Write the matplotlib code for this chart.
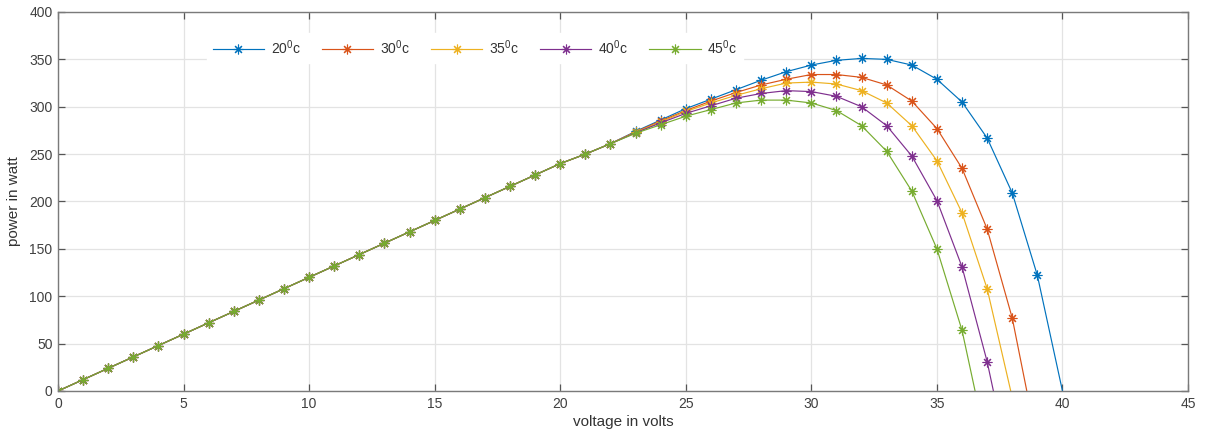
import matplotlib
matplotlib.use("Agg")
import matplotlib.pyplot as plt

plt.rcParams["font.family"] = ["Liberation Sans", "DejaVu Sans"]
plt.rcParams["mathtext.default"] = "regular"

# ─── P-V data ────────────────────────────────────────────────────────────────

# below ~22 V every temperature gives the same power
volt_low = list(range(0, 23))
power_low = [0, 12, 24, 36, 48, 60, 72, 84, 96, 108, 120, 132, 144, 156,
             168, 180, 192, 204, 216, 228, 240, 250, 261]

# knee region, sampled at 1 V steps, last point is the open-circuit voltage
volt_20 = list(range(23, 40)) + [40.0]
power_20 = [274, 286, 298, 308, 318, 328, 337, 344, 349, 351, 350, 344,
            329, 305, 267, 209, 122, 0]

volt_30 = list(range(23, 39)) + [38.58]
power_30 = [273.5, 285, 296, 306, 315, 323, 329, 334, 334, 331, 323, 306,
            277, 235, 171, 77, 0]

volt_35 = list(range(23, 38)) + [37.94]
power_35 = [273, 284, 295, 304, 312, 319, 325, 326, 324, 317, 304, 280,
            243, 188, 108, 0]

volt_40 = list(range(23, 38)) + [37.25]
power_40 = [272.5, 283, 293, 301, 309, 314, 317, 316, 311, 300, 280, 248,
            201, 131, 31, 0]

volt_45 = list(range(23, 37)) + [36.52]
power_45 = [272, 281, 290, 297, 304, 307, 307, 304, 296, 280, 253, 211,
            150, 64, 0]

labels = ["20$^0$c", "30$^0$c", "35$^0$c", "40$^0$c", "45$^0$c"]
colors = ["#0072BD", "#D95319", "#EDB120", "#7E2F8E", "#77AC30"]

series = [(volt_20, power_20), (volt_30, power_30), (volt_35, power_35),
          (volt_40, power_40), (volt_45, power_45)]

# ─── Plot ────────────────────────────────────────────────────────────────────

fig = plt.figure(figsize=(12.14, 4.41), dpi=100)
ax = fig.add_axes([0.0478, 0.1134, 0.9308, 0.8594])

asterisk = (8, 2, 0)
for (v, p), lab, col in zip(series, labels, colors):
    vv = volt_low + v
    pp = power_low + p
    ax.plot(vv, pp, color=col, lw=0.85, marker=asterisk, ms=7, mew=0.8,
            markevery=list(range(len(vv) - 1)), label=lab)

ax.set_xlim(0, 45)
ax.set_ylim(0, 400)
ax.set_xticks(range(0, 46, 5))
ax.set_yticks(range(0, 401, 50))
ax.grid(True, color="#e3e3e3", lw=0.9)
ax.set_axisbelow(True)

for s in ax.spines.values():
    s.set_color("#7a7a7a")
    s.set_linewidth(1.0)
ax.tick_params(direction="in", length=5, width=0.9, color="#555555",
               top=True, right=True, labelsize=10, labelcolor="#404040", pad=4)

ax.set_xlabel("voltage in volts", fontsize=11, color="#333333", labelpad=3)
ax.set_ylabel("power in watt", fontsize=11, color="#333333", labelpad=6)

leg = ax.legend(ncol=5, loc="center", bbox_to_anchor=(0.369, 0.905),
                frameon=True, fontsize=10, handlelength=3.7, handletextpad=0.5,
                columnspacing=1.5, borderpad=0.4)
leg.get_frame().set_facecolor("white")
leg.get_frame().set_edgecolor("white")
leg.get_frame().set_alpha(1.0)
for t in leg.get_texts():
    t.set_color("#333333")

fig.savefig("out.png", dpi=100)
